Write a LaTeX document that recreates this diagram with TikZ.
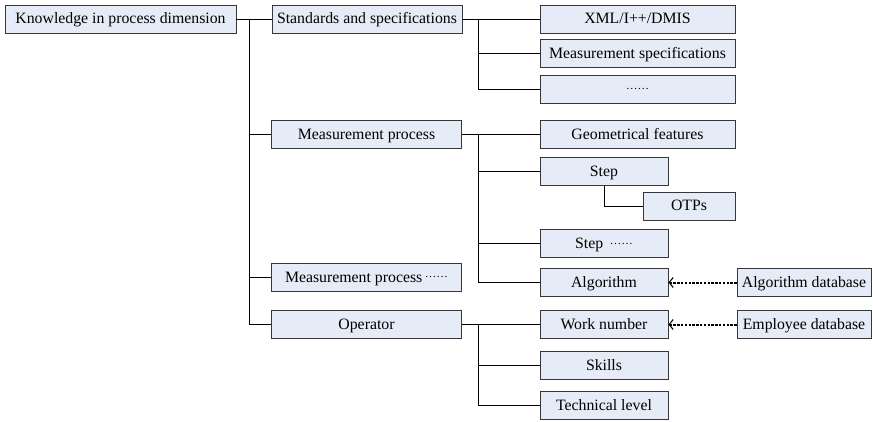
\documentclass[tikz,border=0pt]{standalone}
\usepackage{fontspec}
\setmainfont{Liberation Serif}
\usetikzlibrary{arrows.meta}
\definecolor{boxfill}{RGB}{230,236,247}
\definecolor{boxline}{RGB}{55,55,55}
% six vertically centred dots
\newcommand{\dotsix}{\raisebox{4.5pt}{\fontsize{11.5}{12}\selectfont ……}}
\tikzset{
  box/.style={draw=boxline, fill=boxfill, line width=0.9pt, inner sep=0pt,
    minimum height=28pt, text height=12pt, text depth=2pt,
    font=\fontsize{15.8}{18}\selectfont},
  wide/.style={box, minimum width=190pt},
  wider/.style={box, minimum width=195pt},
  narrow/.style={box, minimum width=128pt},
  link/.style={line width=0.9pt, black},
  dbarrow/.style={line width=2pt, dash pattern=on 2.4pt off 1.4pt,
    -{Straight Barb[length=4pt,width=10pt,line width=1.1pt]}}
}
\begin{document}
\begin{tikzpicture}[x=1pt,y=-1pt]
\useasboundingbox (0,0) rectangle (873,422);

% root and first level
\node[box, minimum width=231pt] (root) at (120.5,19) {Knowledge in process dimension};
\node[wide] (std)  at (367,19)    {Standards and specifications};
\node[wide] (mp)   at (366.5,134.5) {Measurement process};
\node[wide] (mpd)  at (366.5,277) {Measurement process\,\dotsix};
\node[wide] (op)   at (366.5,324.5) {Operator};

% standards
\node[wider] (xml)  at (637.5,19)   {XML/I++/DMIS};
\node[wider] (ms)   at (637.5,53.5) {Measurement specifications};
\node[wider] (sdots) at (637.5,89.5) {\dotsix};

% measurement process
\node[wider]  (geo)   at (637.5,134.5) {Geometrical features};
\node[narrow] (step)  at (604,171.5) {Step};
\node[box, minimum width=92pt] (otp) at (689,206) {OTPs};
\node[narrow] (stepd) at (604,243.5) {Step \,\dotsix};
\node[narrow] (alg)   at (604,282.5) {Algorithm};
\node[box, minimum width=134pt] (algdb) at (804,282.5) {Algorithm database};

% operator
\node[narrow] (wn)     at (604,324.5) {Work number};
\node[box, minimum width=134pt] (empdb) at (804,324.5) {Employee database};
\node[narrow] (skills) at (604,365) {Skills};
\node[narrow] (tech)   at (604,405.5) {Technical level};

% trunk from the root
\coordinate (t0) at (249,19);
\draw[link] (root.east) -- (std.west);
\draw[link] (t0) |- (mp.west);
\draw[link] (t0) |- (mpd.west);
\draw[link] (t0) |- (op.west);

% standards branch
\coordinate (t1) at (478,19);
\draw[link] (std.east) -- (xml.west);
\draw[link] (t1) |- (ms.west);
\draw[link] (t1) |- (sdots.west);

% measurement process branch
\coordinate (t2) at (478,134.5);
\draw[link] (mp.east) -- (geo.west);
\draw[link] (t2) |- (step.west);
\draw[link] (t2) |- (stepd.west);
\draw[link] (t2) |- (alg.west);
\draw[link] (step.south) |- (otp.west);

% operator branch
\coordinate (t3) at (478,324.5);
\draw[link] (op.east) -- (wn.west);
\draw[link] (t3) |- (skills.west);
\draw[link] (t3) |- (tech.west);

% database references
\draw[dbarrow] (algdb.west) -- (alg.east);
\draw[dbarrow] (empdb.west) -- (wn.east);
\end{tikzpicture}
\end{document}
